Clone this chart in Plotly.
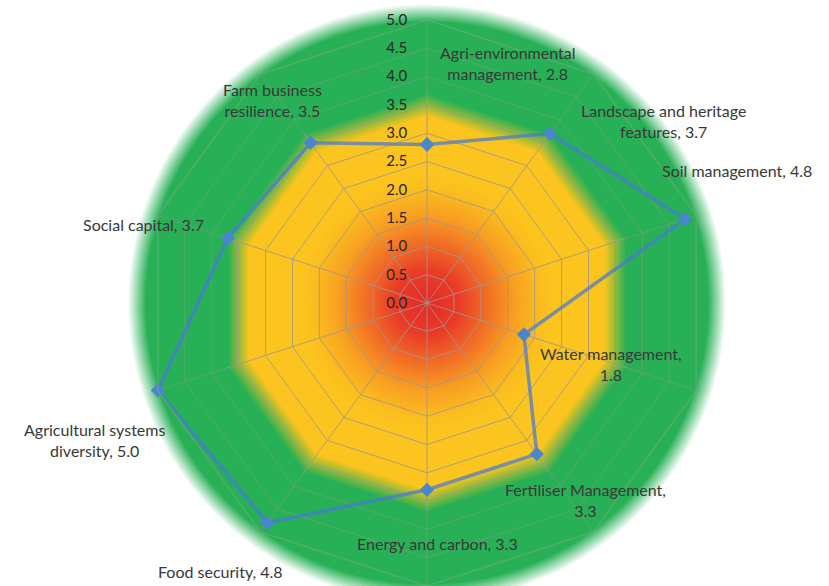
import numpy as np
import plotly.graph_objects as go

# ---------------- data ----------------
categories = [
    "Agri-environmental management",
    "Landscape and heritage features",
    "Soil management",
    "Water management",
    "Fertiliser Management",
    "Energy and carbon",
    "Food security",
    "Agricultural systems diversity",
    "Social capital",
    "Farm business resilience",
]
values = [2.8, 3.7, 4.8, 1.8, 3.3, 3.3, 4.8, 5.0, 3.7, 3.5]
tick_vals = [0.0, 0.5, 1.0, 1.5, 2.0, 2.5, 3.0, 3.5, 4.0, 4.5, 5.0]
tick_text = [f"{t:.1f}" for t in tick_vals]

# ---------------- style ----------------
W, H = 829, 586
CX, CY = 427.0, 303.0          # chart centre in pixels (from top-left)
R5 = 283.0                      # pixel radius of value 5.0
UNIT = R5 / 5.0
FONT = "Lato, 'Open Sans', sans-serif"
TEXT_COLOR = "#383838"
GRID_COLOR = "rgba(160,152,140,0.85)"

# word index after which each data label wraps (0 = no wrap)
label_wrap = [1, 3, 0, 2, 2, 0, 0, 2, 0, 2]
# label centres in pixels
label_px = [(507, 63), (663, 121), (737, 170), (611, 364), (585, 500),
            (437, 543), (220, 571), (94, 440), (143, 224), (272, 100)]

GREEN = (40, 176, 86)
YELLOW = (252, 196, 30)
WHITE = (255, 255, 255)
inner_stops = [(0.0, (228, 40, 40)), (0.6, (233, 60, 40)), (1.1, (241, 110, 38)),
               (1.6, (248, 160, 34)), (2.05, (251, 190, 31)), (2.3, YELLOW)]


def mix(c1, c2, t):
    return tuple(int(round(a + (b - a) * t)) for a, b in zip(c1, c2))


def stop_color(r, stops):
    for (r0, c0), (r1, c1) in zip(stops[:-1], stops[1:]):
        if r0 <= r <= r1:
            return mix(c0, c1, (r - r0) / (r1 - r0))
    return stops[-1][1]


def rgb(c):
    return f"rgb({c[0]},{c[1]},{c[2]})"


n_axes = len(categories)
fig = go.Figure()


def add_shape_trace(r, color, polygon=False):
    if polygon:
        th = np.deg2rad(np.arange(n_axes + 1) * 360.0 / n_axes)
    else:
        th = np.linspace(0, 2 * np.pi, 181)
    fig.add_trace(go.Scatter(
        x=r * np.sin(th), y=r * np.cos(th), mode="lines",
        line=dict(width=0, color=rgb(color)), fill="toself", fillcolor=rgb(color),
        hoverinfo="skip", showlegend=False, xaxis="x", yaxis="y"))


# green disk with soft edge
for r in np.linspace(5.30, 4.98, 12):
    t = (5.30 - r) / (5.30 - 4.98)
    add_shape_trace(r, mix(WHITE, GREEN, t))
# yellow decagon with soft edge
for r in np.linspace(3.72, 3.32, 10):
    t = (3.72 - r) / (3.72 - 3.32)
    add_shape_trace(r, mix(GREEN, YELLOW, t), polygon=True)
# red / orange centre
for r in np.arange(2.3, 0.0, -0.05):
    add_shape_trace(r, stop_color(r, inner_stops))

# translucent green veil over the grid in the outer band (softens grid lines)
outer = [5.0] * n_axes + [5.0]
inner = [3.72] * n_axes + [3.72]
fig.add_trace(go.Scatterpolar(
    r=outer + inner[::-1],
    theta=categories + categories[:1] + (categories + categories[:1])[::-1],
    mode="lines", line=dict(width=0), fill="toself",
    fillcolor="rgba(40,176,86,0.5)", hoverinfo="skip", showlegend=False,
    subplot="polar"))

# ---------------- data series ----------------
fig.add_trace(go.Scatterpolar(
    r=values + values[:1], theta=categories + categories[:1],
    mode="lines+markers",
    line=dict(color="rgba(70,122,212,0.72)", width=3.5),
    marker=dict(symbol="diamond", size=11, color="rgb(74,134,206)",
                line=dict(width=0)),
    showlegend=False, subplot="polar", hoverinfo="skip"))

# ---------------- labels ----------------
annotations = []
for cat, v, wrap, (px, py) in zip(categories, values, label_wrap, label_px):
    words = f"{cat}, {v:.1f}".split(" ")
    if wrap:
        txt = " ".join(words[:wrap]) + "<br>" + " ".join(words[wrap:])
    else:
        txt = " ".join(words)
    annotations.append(dict(
        x=px / W, y=1 - py / H, xref="paper", yref="paper", text=txt,
        showarrow=False, xanchor="center", yanchor="middle", align="center",
        font=dict(family=FONT, size=16, color=TEXT_COLOR)))

dom_w = 2 * R5 / W
fig.update_layout(
    width=W, height=H, autosize=False,
    margin=dict(l=0, r=0, t=0, b=0, pad=0),
    paper_bgcolor="white", plot_bgcolor="rgba(0,0,0,0)",
    xaxis=dict(domain=[0, 1], range=[-CX / UNIT, (W - CX) / UNIT], visible=False,
               fixedrange=True),
    yaxis=dict(domain=[0, 1], range=[-(H - CY) / UNIT, CY / UNIT], visible=False,
               fixedrange=True),
    polar=dict(
        domain=dict(x=[CX / W - dom_w / 2, CX / W + dom_w / 2],
                    y=[0, 2 * (H - CY) / H]),
        bgcolor="rgba(0,0,0,0)",
        gridshape="linear",
        radialaxis=dict(range=[0, 5], angle=90, tickangle=90, side="counterclockwise",
                        tickvals=tick_vals, ticktext=tick_text,
                        showline=False, gridcolor=GRID_COLOR, gridwidth=1.3,
                        ticks="outside", ticklen=14, tickcolor="rgba(0,0,0,0)",
                        tickfont=dict(family=FONT, size=15, color="#262626")),
        angularaxis=dict(rotation=90, direction="clockwise", showticklabels=False,
                         ticks="", showline=True, linecolor="rgba(120,170,120,0.6)",
                         linewidth=1.3, gridcolor=GRID_COLOR, gridwidth=1.3),
    ),
    annotations=annotations,
)

fig.write_html("out.html")
